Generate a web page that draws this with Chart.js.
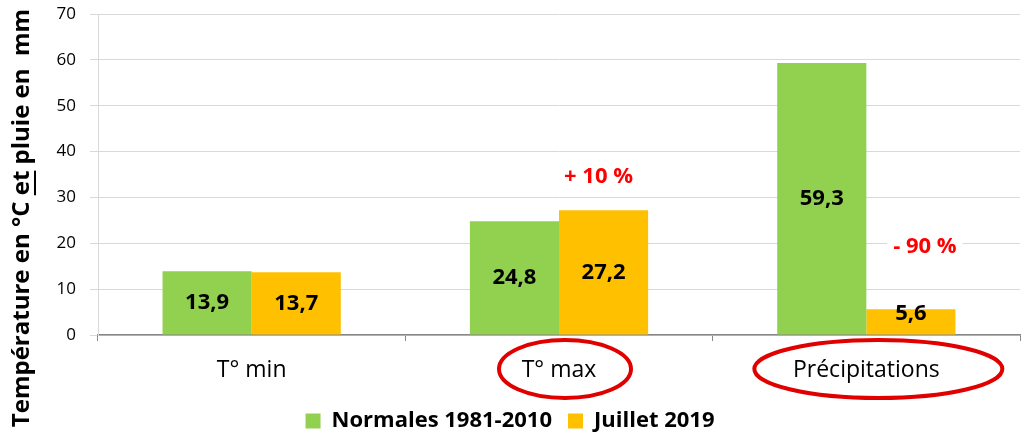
<!DOCTYPE html>
<html>
<head>
<meta charset="utf-8">
<script src="https://cdn.jsdelivr.net/npm/chart.js@4"></script>
<style>
  html, body { margin: 0; padding: 0; background: #fff; }
  #wrap { width: 1028px; height: 434px; }
</style>
</head>
<body>
<div id="wrap"><canvas id="myCanvas" width="1028" height="434"></canvas></div>
<script>
// data
var categories = ['T° min', 'T° max', 'Précipitations'];
var normales = [13.9, 24.8, 59.3];
var juillet = [13.7, 27.2, 5.6];
var seriesNames = ['Normales 1981-2010', 'Juillet 2019'];
var ecarts = ['', '+ 10 %', '- 90 %'];   // red notes near the July bars
var entoures = [1, 2];                     // categories circled in red

var FONT = "'Open Sans', Lato, sans-serif";

// writes the value inside each bar, french comma
var valueLabels = {
  id: 'valueLabels',
  afterDatasetsDraw: function(chart) {
    var ctx = chart.ctx;
    ctx.save();
    ctx.font = 'bold 22px ' + FONT;
    ctx.fillStyle = '#000';
    ctx.textAlign = 'center';
    ctx.textBaseline = 'middle';
    chart.data.datasets.forEach(function(ds, i) {
      chart.getDatasetMeta(i).data.forEach(function(bar, j) {
        var y = (bar.y + bar.base) / 2;
        if (bar.base - bar.y < 30) y = bar.base - 21;
        ctx.fillText(ds.data[j].toString().replace('.', ','), bar.x, y);
      });
    });
    ctx.restore();
  }
};

// red percentages, red ellipses, and the rotated y title with underlined "et"
var extras = {
  id: 'extras',
  afterDraw: function(chart) {
    var ctx = chart.ctx;
    var xs = chart.scales.x, ys = chart.scales.y;
    ctx.save();

    // percentages
    ctx.font = 'bold 22px ' + FONT;
    ctx.textAlign = 'center';
    ctx.textBaseline = 'middle';
    ecarts.forEach(function(t, j) {
      if (!t) return;
      var bar = chart.getDatasetMeta(1).data[j];
      var x = bar.x + (j == 1 ? -5 : 14);
      var y = j == 1 ? bar.y - 34 : ys.getPixelForValue(19.2);
      var w = ctx.measureText(t).width;
      ctx.fillStyle = '#fff';
      ctx.fillRect(x - w / 2 - 6, y - 13, w + 12, 26);
      ctx.fillStyle = '#ff0000';
      ctx.fillText(t, x, y);
    });

    // ellipses round the circled labels
    ctx.strokeStyle = '#e00000';
    ctx.lineWidth = 4;
    entoures.forEach(function(j) {
      var cx = xs.getPixelForValue(j) + (j == 1 ? 6 : 12);
      var rx = j == 1 ? 66 : 124;
      ctx.beginPath();
      ctx.ellipse(cx, 369, rx, 29, 0, 0, Math.PI * 2);
      ctx.stroke();
    });

    // y axis title
    var parts = ['Température en °C ', 'et', ' pluie en  mm'];
    ctx.font = 'bold 24px ' + FONT;
    ctx.fillStyle = '#000';
    ctx.textAlign = 'left';
    ctx.textBaseline = 'middle';
    var total = parts.reduce(function(s, p) { return s + ctx.measureText(p).width; }, 0);
    ctx.translate(22, 218);
    ctx.rotate(-Math.PI / 2);
    var x0 = -total / 2;
    parts.forEach(function(p, k) {
      var w = ctx.measureText(p).width;
      ctx.fillText(p, x0, 0);
      if (k == 1) ctx.fillRect(x0, 12, w, 2);
      x0 += w;
    });
    ctx.restore();
  }
};

var ctx = document.getElementById('myCanvas').getContext('2d');
var myChart = new Chart(ctx, {
  type: 'bar',
  data: {
    labels: categories,
    datasets: [{
      label: seriesNames[0],
      data: normales,
      backgroundColor: '#92d050'
    }, {
      label: seriesNames[1],
      data: juillet,
      backgroundColor: '#ffc000'
    }]
  },
  options: {
    responsive: false,
    animation: false,
    devicePixelRatio: 1,
    layout: { padding: { top: 14, right: 8, left: 0, bottom: -8 } },
    datasets: {
      bar: { categoryPercentage: 0.58, barPercentage: 1.0 }
    },
    plugins: {
      tooltip: { enabled: false },
      legend: {
        position: 'bottom',
        labels: {
          color: '#000',
          font: { family: FONT, size: 22, weight: 'bold' },
          boxWidth: 15,
          boxHeight: 15,
          padding: 16
        }
      }
    },
    scales: {
      x: {
        afterFit: function(scale) { scale.height = 59; },
        grid: {
          display: true,
          offset: true,
          drawOnChartArea: false,
          drawTicks: true,
          tickLength: 6,
          color: '#888'
        },
        border: { color: '#888', width: 1.5 },
        ticks: {
          color: '#000',
          padding: 16,
          font: { family: FONT, size: 23 }
        }
      },
      y: {
        min: 0,
        max: 70,
        afterFit: function(scale) {
          scale.width = 98;
          scale.paddingTop = 0;
          scale.paddingBottom = 0;
        },
        grid: { color: '#d9d9d9', tickLength: 8 },
        border: { color: '#d9d9d9' },
        ticks: {
          stepSize: 10,
          color: '#000',
          padding: 14,
          font: { family: FONT, size: 17 }
        }
      }
    }
  },
  plugins: [valueLabels, extras]
});
</script>
</body>
</html>
